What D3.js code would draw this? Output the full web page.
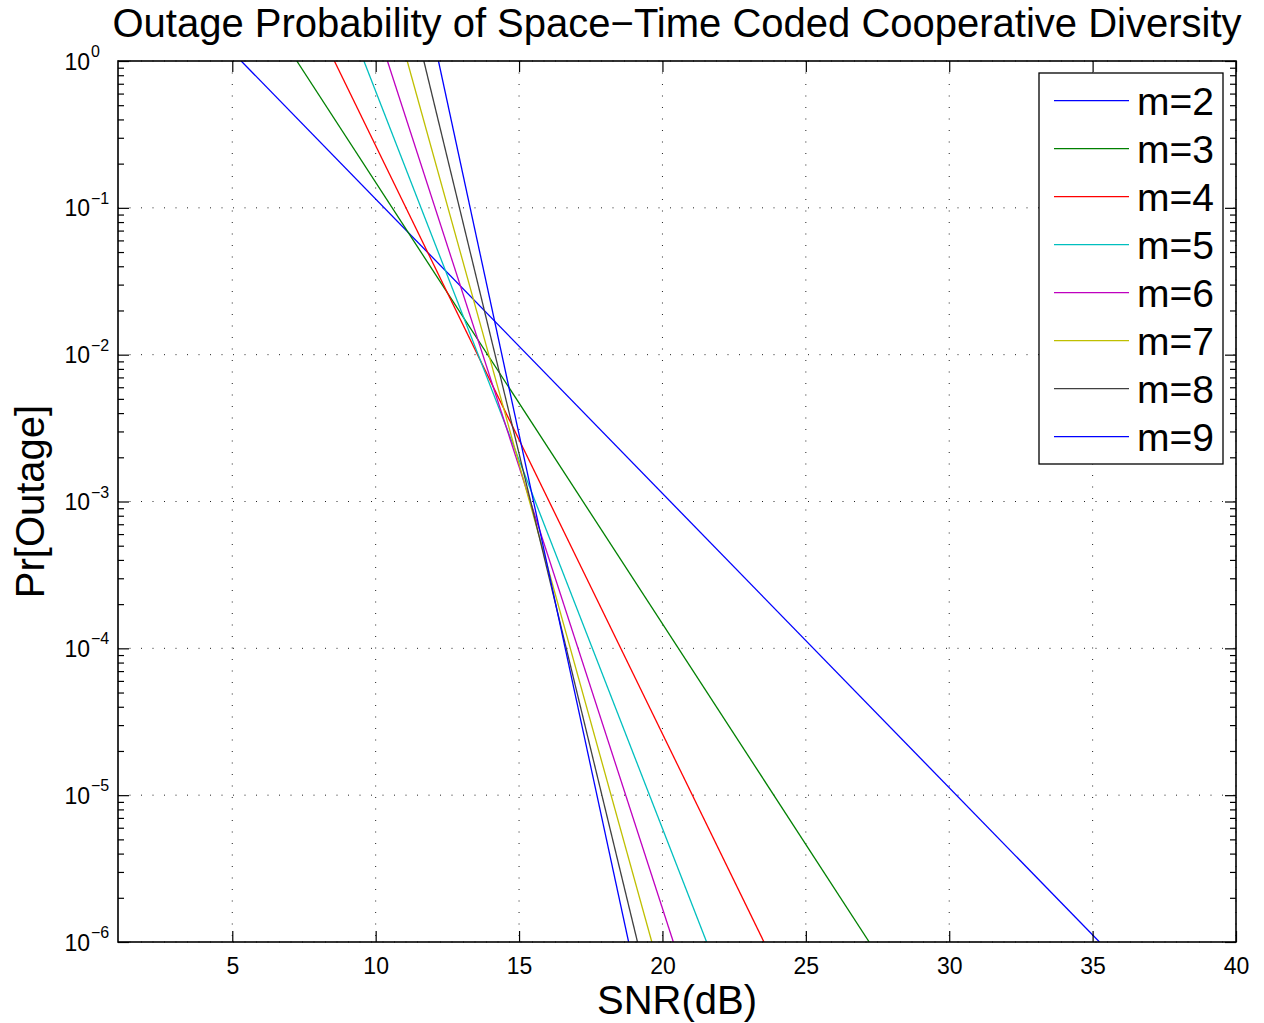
<!DOCTYPE html>
<html>
<head>
<meta charset="utf-8">
<script src="https://cdn.jsdelivr.net/npm/d3@7"></script>
<style>
  body { margin: 0; background: #fff; }
  text { font-family: 'Liberation Sans', Arial, sans-serif; fill: #000; }
</style>
</head>
<body>
<svg width="1264" height="1023"></svg>
<script>
// legend names, one per curve
const seriesNames = ['m=2', 'm=3', 'm=4', 'm=5', 'm=6', 'm=7', 'm=8', 'm=9'];
// SNR (dB) where each curve sits at Pr = 1 and at Pr = 1e-6
const snrAtOutageOne = [5.31, 7.25, 8.56, 9.59, 10.41, 11.10, 11.68, 12.19];
const snrAtOutageMicro = [35.24, 27.21, 23.54, 21.54, 20.38, 19.63, 19.13, 18.82];
const outageLevels = [1, 1e-6];
const xTickValues = [5, 10, 15, 20, 25, 30, 35, 40];
const yTickExponents = [0, -1, -2, -3, -4, -5, -6];

const lineColors = ['#0000ff', '#008000', '#ff0000', '#00bfbf', '#bf00bf', '#bfbf00', '#404040', '#0000ff'];

const prepareSvg = () => {
  const svg = d3.select('svg');
  const svgWidth = +svg.attr('width');
  const svgHeight = +svg.attr('height');
  return { svg, svgWidth, svgHeight };
};

const renderChart = () => {
  const { svg } = prepareSvg();
  const margin = { top: 61, left: 118, right: 28, bottom: 81 };
  const width = 1264 - margin.left - margin.right;
  const height = 1023 - margin.top - margin.bottom;

  const xScale = d3.scaleLinear().domain([1.015, 40]).range([0, width]);
  const yScale = d3.scaleLog().domain([1e-6, 1]).range([height, 0]);

  const series = seriesNames.map((name, i) => ({
    name,
    color: lineColors[i],
    points: [[snrAtOutageOne[i], outageLevels[0]], [snrAtOutageMicro[i], outageLevels[1]]]
  }));

  const g = svg.append('g')
    .attr('transform', `translate(${margin.left}, ${margin.top})`);

  g.append('clipPath').attr('id', 'plot-clip')
    .append('rect').attr('width', width).attr('height', height);

  // dotted grid
  const gridGroup = g.append('g').attr('class', 'grid');
  gridGroup.selectAll('line.vgrid')
    .data(xTickValues)
    .enter().append('line')
      .attr('x1', d => xScale(d)).attr('x2', d => xScale(d))
      .attr('y1', 0).attr('y2', height)
      .attr('stroke', '#222').attr('stroke-width', 1)
      .attr('stroke-dasharray', '1,10.5');
  gridGroup.selectAll('line.hgrid')
    .data(yTickExponents)
    .enter().append('line')
      .attr('y1', d => yScale(Math.pow(10, d))).attr('y2', d => yScale(Math.pow(10, d)))
      .attr('x1', 0).attr('x2', width)
      .attr('stroke', '#222').attr('stroke-width', 1)
      .attr('stroke-dasharray', '1,10.5');

  // curves
  const line = d3.line()
    .x(d => xScale(d[0]))
    .y(d => yScale(d[1]));
  g.append('g').attr('clip-path', 'url(#plot-clip)')
    .selectAll('path')
    .data(series)
    .enter().append('path')
      .attr('d', d => line(d.points))
      .attr('fill', 'none')
      .attr('stroke', d => d.color)
      .attr('stroke-width', 1.3);

  // axes: ticks inward on all four sides
  const bottomAxis = d3.axisBottom(xScale).tickValues(xTickValues).tickSize(-11).tickPadding(16).tickFormat(d3.format('d'));
  const topAxis = d3.axisTop(xScale).tickValues(xTickValues).tickSize(-11).tickFormat('');
  const majorY = yTickExponents.map(e => Math.pow(10, e));
  const minorY = [];
  yTickExponents.slice(1).forEach(e => {
    for (let k = 2; k <= 9; k++) minorY.push(k * Math.pow(10, e));
  });
  const leftMajor = d3.axisLeft(yScale).tickValues(majorY).tickSize(-11).tickFormat('');
  const leftMinor = d3.axisLeft(yScale).tickValues(minorY).tickSize(-6).tickFormat('');
  const rightMajor = d3.axisRight(yScale).tickValues(majorY).tickSize(-11).tickFormat('');
  const rightMinor = d3.axisRight(yScale).tickValues(minorY).tickSize(-6).tickFormat('');

  const xAxisGroup = g.append('g').attr('transform', `translate(0, ${height})`).call(bottomAxis);
  g.append('g').call(topAxis);
  g.append('g').call(leftMajor);
  g.append('g').call(leftMinor);
  g.append('g').attr('transform', `translate(${width}, 0)`).call(rightMajor);
  g.append('g').attr('transform', `translate(${width}, 0)`).call(rightMinor);
  g.selectAll('.domain').remove();
  g.selectAll('.tick line').attr('stroke', '#000').attr('stroke-width', 1.2);
  xAxisGroup.selectAll('text')
    .attr('font-size', 23)
    .attr('font-family', "'Liberation Sans', Arial, sans-serif")
    .attr('fill', '#000');

  // box
  g.append('rect')
    .attr('width', width).attr('height', height)
    .attr('fill', 'none').attr('stroke', '#000').attr('stroke-width', 1.6);

  // y tick labels as 10^n
  const yLabels = g.append('g').selectAll('g.ylab')
    .data(yTickExponents)
    .enter().append('g')
      .attr('transform', d => `translate(0, ${yScale(Math.pow(10, d))})`);
  yLabels.append('text')
    .attr('x', -28).attr('y', 8.5)
    .attr('text-anchor', 'end')
    .attr('font-size', 23)
    .text('10');
  yLabels.append('text')
    .attr('x', -27).attr('y', -4)
    .attr('font-size', 16)
    .text(d => d === 0 ? '0' : '\u2212' + Math.abs(d));

  // title and axis labels
  g.append('text')
    .attr('x', width / 2).attr('y', -24)
    .attr('text-anchor', 'middle')
    .attr('font-size', 40)
    .text('Outage Probability of Space\u2212Time Coded Cooperative Diversity');
  g.append('text')
    .attr('x', width / 2).attr('y', height + 72)
    .attr('text-anchor', 'middle')
    .attr('font-size', 40)
    .text('SNR(dB)');
  g.append('text')
    .attr('transform', `translate(${44 - margin.left}, ${height / 2}) rotate(-90)`)
    .attr('text-anchor', 'middle')
    .attr('font-size', 40)
    .text('Pr[Outage]');

  // legend
  const legend = g.append('g').attr('transform', `translate(${1039 - margin.left}, ${73 - margin.top})`);
  legend.append('rect')
    .attr('width', 184).attr('height', 391)
    .attr('fill', '#fff').attr('stroke', '#000').attr('stroke-width', 1.3);
  const rows = legend.selectAll('g.row')
    .data(series)
    .enter().append('g')
      .attr('transform', (d, i) => `translate(0, ${27.7 + i * 48})`);
  rows.append('line')
    .attr('x1', 15).attr('x2', 90)
    .attr('stroke', d => d.color).attr('stroke-width', 1.3);
  rows.append('text')
    .attr('x', 98).attr('y', 14)
    .attr('font-size', 39)
    .text(d => d.name);
};

renderChart();
</script>
</body>
</html>
